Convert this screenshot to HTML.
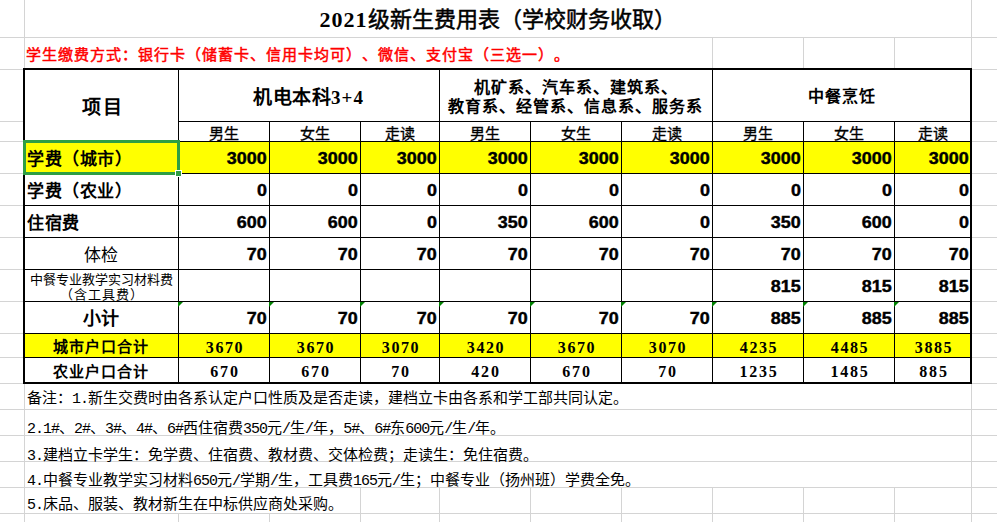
<!DOCTYPE html>
<html lang="zh-CN"><head><meta charset="utf-8"><style>
*{margin:0;padding:0}
html,body{width:997px;height:522px;overflow:hidden;background:#fff}
body{position:relative;font-family:"Liberation Sans",sans-serif;color:#000}
i,b.tri{position:absolute;display:block}
b.tri{width:0;height:0;border-top:5px solid #008000;border-right:5px solid transparent}
.t{position:absolute;white-space:nowrap;line-height:1;text-spacing-trim:space-all}
.m{font-family:"Liberation Mono",monospace;letter-spacing:-1px}
.c{text-align:center}
.title{font-size:22px;font-weight:400;line-height:22px;-webkit-text-stroke:0.5px #000}
.tn{font-family:"Liberation Serif",serif;letter-spacing:1px;font-weight:bold;-webkit-text-stroke:0}
.red{color:#ff0000;font-size:15px;font-weight:400;letter-spacing:1px;-webkit-text-stroke:0.5px #ff0000}
.hd{font-size:19px;font-weight:bold;letter-spacing:0.5px}
.hd2{font-size:16px;font-weight:bold;line-height:19px;letter-spacing:1px}
.hd3{font-size:16px;font-weight:bold;letter-spacing:1px}
.sub{font-size:15px;font-weight:400;-webkit-text-stroke:0.35px #000}
.lab{font-size:17px;font-weight:bold;letter-spacing:0.5px}
.lab2{font-size:17px;font-weight:350}
.small{font-size:13px;line-height:15px;font-weight:350}
.lab3{font-size:18px;font-weight:bold}
.lab4{font-size:15px;font-weight:bold;letter-spacing:1px}
.num{font-size:16px;font-weight:bold;transform:scaleX(1.12);transform-origin:100% 50%;-webkit-text-stroke:0.4px #000}
.tot{font-size:16px;font-weight:bold;font-family:"Liberation Serif",serif;letter-spacing:1.6px}
.tot2{font-size:16px;font-weight:bold;font-family:"Liberation Serif",serif;letter-spacing:1.8px}
.note{font-size:15px;font-weight:350}
</style></head><body>
<i style="left:0px;top:37px;width:997px;height:1px;background:#d4d4d4"></i>
<i style="left:0px;top:69px;width:997px;height:1px;background:#d4d4d4"></i>
<i style="left:0px;top:121px;width:997px;height:1px;background:#d4d4d4"></i>
<i style="left:0px;top:141px;width:997px;height:1px;background:#d4d4d4"></i>
<i style="left:0px;top:173px;width:997px;height:1px;background:#d4d4d4"></i>
<i style="left:0px;top:205px;width:997px;height:1px;background:#d4d4d4"></i>
<i style="left:0px;top:237px;width:997px;height:1px;background:#d4d4d4"></i>
<i style="left:0px;top:269px;width:997px;height:1px;background:#d4d4d4"></i>
<i style="left:0px;top:301px;width:997px;height:1px;background:#d4d4d4"></i>
<i style="left:0px;top:333px;width:997px;height:1px;background:#d4d4d4"></i>
<i style="left:0px;top:357px;width:997px;height:1px;background:#d4d4d4"></i>
<i style="left:0px;top:383px;width:997px;height:1px;background:#d4d4d4"></i>
<i style="left:0px;top:409px;width:997px;height:1px;background:#d4d4d4"></i>
<i style="left:0px;top:435px;width:997px;height:1px;background:#d4d4d4"></i>
<i style="left:0px;top:461px;width:997px;height:1px;background:#d4d4d4"></i>
<i style="left:0px;top:487px;width:997px;height:1px;background:#d4d4d4"></i>
<i style="left:0px;top:513px;width:997px;height:1px;background:#d4d4d4"></i>
<i style="left:24px;top:0px;width:1px;height:522px;background:#d4d4d4"></i>
<i style="left:971px;top:0px;width:1px;height:522px;background:#d4d4d4"></i>
<i style="left:712px;top:37px;width:1px;height:32px;background:#d4d4d4"></i>
<i style="left:803px;top:37px;width:1px;height:32px;background:#d4d4d4"></i>
<i style="left:894px;top:37px;width:1px;height:32px;background:#d4d4d4"></i>
<i style="left:360px;top:487px;width:1px;height:26px;background:#d4d4d4"></i>
<i style="left:439px;top:487px;width:1px;height:26px;background:#d4d4d4"></i>
<i style="left:530px;top:487px;width:1px;height:26px;background:#d4d4d4"></i>
<i style="left:621px;top:487px;width:1px;height:26px;background:#d4d4d4"></i>
<i style="left:712px;top:487px;width:1px;height:26px;background:#d4d4d4"></i>
<i style="left:803px;top:487px;width:1px;height:26px;background:#d4d4d4"></i>
<i style="left:894px;top:487px;width:1px;height:26px;background:#d4d4d4"></i>
<i style="left:178px;top:513px;width:1px;height:9px;background:#d4d4d4"></i>
<i style="left:269px;top:513px;width:1px;height:9px;background:#d4d4d4"></i>
<i style="left:360px;top:513px;width:1px;height:9px;background:#d4d4d4"></i>
<i style="left:439px;top:513px;width:1px;height:9px;background:#d4d4d4"></i>
<i style="left:530px;top:513px;width:1px;height:9px;background:#d4d4d4"></i>
<i style="left:621px;top:513px;width:1px;height:9px;background:#d4d4d4"></i>
<i style="left:712px;top:513px;width:1px;height:9px;background:#d4d4d4"></i>
<i style="left:803px;top:513px;width:1px;height:9px;background:#d4d4d4"></i>
<i style="left:894px;top:513px;width:1px;height:9px;background:#d4d4d4"></i>
<i style="left:25px;top:70px;width:945px;height:312px;background:#ffffff"></i>
<i style="left:25px;top:141px;width:945px;height:32px;background:#ffff00"></i>
<i style="left:25px;top:333px;width:945px;height:24px;background:#ffff00"></i>
<i style="left:23px;top:141px;width:949px;height:1px;background:#000000"></i>
<i style="left:23px;top:173px;width:949px;height:1px;background:#000000"></i>
<i style="left:23px;top:205px;width:949px;height:1px;background:#000000"></i>
<i style="left:23px;top:237px;width:949px;height:1px;background:#000000"></i>
<i style="left:23px;top:269px;width:949px;height:1px;background:#000000"></i>
<i style="left:23px;top:301px;width:949px;height:1px;background:#000000"></i>
<i style="left:23px;top:333px;width:949px;height:1px;background:#000000"></i>
<i style="left:23px;top:357px;width:949px;height:1px;background:#000000"></i>
<i style="left:178px;top:121px;width:793px;height:1px;background:#000000"></i>
<i style="left:178px;top:68px;width:1px;height:315px;background:#000000"></i>
<i style="left:439px;top:68px;width:1px;height:315px;background:#000000"></i>
<i style="left:712px;top:68px;width:1px;height:315px;background:#000000"></i>
<i style="left:269px;top:121px;width:1px;height:262px;background:#000000"></i>
<i style="left:360px;top:121px;width:1px;height:262px;background:#000000"></i>
<i style="left:530px;top:121px;width:1px;height:262px;background:#000000"></i>
<i style="left:621px;top:121px;width:1px;height:262px;background:#000000"></i>
<i style="left:803px;top:121px;width:1px;height:262px;background:#000000"></i>
<i style="left:894px;top:121px;width:1px;height:262px;background:#000000"></i>
<i style="left:23px;top:68px;width:949px;height:2px;background:#000000"></i>
<i style="left:23px;top:382px;width:949px;height:2px;background:#000000"></i>
<i style="left:23px;top:68px;width:2px;height:316px;background:#000000"></i>
<i style="left:970px;top:68px;width:2px;height:316px;background:#000000"></i>
<b class="tri" style="left:178px;top:302px"></b>
<b class="tri" style="left:269px;top:302px"></b>
<b class="tri" style="left:360px;top:302px"></b>
<b class="tri" style="left:439px;top:302px"></b>
<b class="tri" style="left:530px;top:302px"></b>
<b class="tri" style="left:621px;top:302px"></b>
<b class="tri" style="left:712px;top:302px"></b>
<b class="tri" style="left:803px;top:302px"></b>
<b class="tri" style="left:894px;top:302px"></b>
<i style="left:23px;top:140px;width:157px;height:3px;background:#2f9e44"></i>
<i style="left:23px;top:172px;width:155px;height:3px;background:#2f9e44"></i>
<i style="left:23px;top:140px;width:3px;height:35px;background:#2f9e44"></i>
<i style="left:177px;top:140px;width:3px;height:32px;background:#2f9e44"></i>
<i style="left:175px;top:170px;width:7px;height:7px;background:#ffffff"></i>
<i style="left:176px;top:171px;width:5px;height:5px;background:#2f9e44"></i>
<div class="t c title" style="left:24px;width:947px;top:9px;"><span class="tn">2021</span>级新生费用表（学校财务收取）</div>
<div class="t red" style="left:26px;top:47px;">学生缴费方式：银行卡（储蓄卡、信用卡均可）、微信、支付宝（三选一）。</div>
<div class="t c hd" style="left:28px;width:150px;top:98px;letter-spacing:2.5px">项目</div>
<div class="t c hd" style="left:178px;width:261px;top:88px;">机电本科<span class="tn">3+4</span></div>
<div class="t c hd2" style="left:439px;width:273px;top:78px;">机矿系、汽车系、建筑系、<br>教育系、经管系、信息系、服务系</div>
<div class="t c hd3" style="left:712px;width:259px;top:89px;">中餐烹饪</div>
<div class="t c sub" style="left:178px;width:91px;top:126px;">男生</div>
<div class="t c sub" style="left:269px;width:91px;top:126px;">女生</div>
<div class="t c sub" style="left:360px;width:79px;top:126px;">走读</div>
<div class="t c sub" style="left:439px;width:91px;top:126px;">男生</div>
<div class="t c sub" style="left:530px;width:91px;top:126px;">女生</div>
<div class="t c sub" style="left:621px;width:91px;top:126px;">走读</div>
<div class="t c sub" style="left:712px;width:91px;top:126px;">男生</div>
<div class="t c sub" style="left:803px;width:91px;top:126px;">女生</div>
<div class="t c sub" style="left:894px;width:77px;top:126px;">走读</div>
<div class="t lab" style="left:27px;top:151px;">学费（城市）</div>
<div class="t lab" style="left:27px;top:183px;">学费（农业）</div>
<div class="t lab" style="left:27px;top:215px;">住宿费</div>
<div class="t c lab2" style="left:24px;width:154px;top:247px;">体检</div>
<div class="t c small" style="left:24px;width:154px;top:272px;">中餐专业教学实习材料费<br><span style="letter-spacing:1px;margin-right:-1px">（含工具费）</span></div>
<div class="t c lab3" style="left:24px;width:154px;top:310px;">小计</div>
<div class="t c lab4" style="left:24px;width:154px;top:339px;">城市户口合计</div>
<div class="t c lab4" style="left:24px;width:154px;top:364px;">农业户口合计</div>
<div class="t r num" style="right:730px;top:151px;">3000</div>
<div class="t r num" style="right:639px;top:151px;">3000</div>
<div class="t r num" style="right:560px;top:151px;">3000</div>
<div class="t r num" style="right:469px;top:151px;">3000</div>
<div class="t r num" style="right:378px;top:151px;">3000</div>
<div class="t r num" style="right:287px;top:151px;">3000</div>
<div class="t r num" style="right:196px;top:151px;">3000</div>
<div class="t r num" style="right:105px;top:151px;">3000</div>
<div class="t r num" style="right:28px;top:151px;">3000</div>
<div class="t r num" style="right:730px;top:183px;">0</div>
<div class="t r num" style="right:639px;top:183px;">0</div>
<div class="t r num" style="right:560px;top:183px;">0</div>
<div class="t r num" style="right:469px;top:183px;">0</div>
<div class="t r num" style="right:378px;top:183px;">0</div>
<div class="t r num" style="right:287px;top:183px;">0</div>
<div class="t r num" style="right:196px;top:183px;">0</div>
<div class="t r num" style="right:105px;top:183px;">0</div>
<div class="t r num" style="right:28px;top:183px;">0</div>
<div class="t r num" style="right:730px;top:215px;">600</div>
<div class="t r num" style="right:639px;top:215px;">600</div>
<div class="t r num" style="right:560px;top:215px;">0</div>
<div class="t r num" style="right:469px;top:215px;">350</div>
<div class="t r num" style="right:378px;top:215px;">600</div>
<div class="t r num" style="right:287px;top:215px;">0</div>
<div class="t r num" style="right:196px;top:215px;">350</div>
<div class="t r num" style="right:105px;top:215px;">600</div>
<div class="t r num" style="right:28px;top:215px;">0</div>
<div class="t r num" style="right:730px;top:247px;">70</div>
<div class="t r num" style="right:639px;top:247px;">70</div>
<div class="t r num" style="right:560px;top:247px;">70</div>
<div class="t r num" style="right:469px;top:247px;">70</div>
<div class="t r num" style="right:378px;top:247px;">70</div>
<div class="t r num" style="right:287px;top:247px;">70</div>
<div class="t r num" style="right:196px;top:247px;">70</div>
<div class="t r num" style="right:105px;top:247px;">70</div>
<div class="t r num" style="right:28px;top:247px;">70</div>
<div class="t r num" style="right:196px;top:279px;">815</div>
<div class="t r num" style="right:105px;top:279px;">815</div>
<div class="t r num" style="right:28px;top:279px;">815</div>
<div class="t r num" style="right:730px;top:311px;">70</div>
<div class="t r num" style="right:639px;top:311px;">70</div>
<div class="t r num" style="right:560px;top:311px;">70</div>
<div class="t r num" style="right:469px;top:311px;">70</div>
<div class="t r num" style="right:378px;top:311px;">70</div>
<div class="t r num" style="right:287px;top:311px;">70</div>
<div class="t r num" style="right:196px;top:311px;">885</div>
<div class="t r num" style="right:105px;top:311px;">885</div>
<div class="t r num" style="right:28px;top:311px;">885</div>
<div class="t c tot" style="left:181px;width:88px;top:340px;">3670</div>
<div class="t c tot2" style="left:181px;width:88px;top:364px;">670</div>
<div class="t c tot" style="left:272px;width:88px;top:340px;">3670</div>
<div class="t c tot2" style="left:272px;width:88px;top:364px;">670</div>
<div class="t c tot" style="left:363px;width:76px;top:340px;">3070</div>
<div class="t c tot2" style="left:363px;width:76px;top:364px;">70</div>
<div class="t c tot" style="left:442px;width:88px;top:340px;">3420</div>
<div class="t c tot2" style="left:442px;width:88px;top:364px;">420</div>
<div class="t c tot" style="left:533px;width:88px;top:340px;">3670</div>
<div class="t c tot2" style="left:533px;width:88px;top:364px;">670</div>
<div class="t c tot" style="left:624px;width:88px;top:340px;">3070</div>
<div class="t c tot2" style="left:624px;width:88px;top:364px;">70</div>
<div class="t c tot" style="left:715px;width:88px;top:340px;">4235</div>
<div class="t c tot2" style="left:715px;width:88px;top:364px;">1235</div>
<div class="t c tot" style="left:806px;width:88px;top:340px;">4485</div>
<div class="t c tot2" style="left:806px;width:88px;top:364px;">1485</div>
<div class="t c tot" style="left:897px;width:74px;top:340px;">3885</div>
<div class="t c tot2" style="left:897px;width:74px;top:364px;">885</div>
<div class="t note" style="left:27px;top:390px;">备注：<span class="m">1.</span>新生交费时由各系认定户口性质及是否走读，建档立卡由各系和学工部共同认定。</div>
<div class="t note" style="left:27px;top:420px;"><span class="m">2.1#</span>、<span class="m">2#</span>、<span class="m">3#</span>、<span class="m">4#</span>、<span class="m">6#</span>西住宿费<span class="m">350</span>元<span class="m">/</span>生<span class="m">/</span>年，<span class="m">5#</span>、<span class="m">6#</span>东<span class="m">600</span>元<span class="m">/</span>生<span class="m">/</span>年。</div>
<div class="t note" style="left:27px;top:447px;"><span class="m">3.</span>建档立卡学生：免学费、住宿费、教材费、交体检费；走读生：免住宿费。</div>
<div class="t note" style="left:27px;top:472px;"><span class="m">4.</span>中餐专业教学实习材料<span class="m">650</span>元<span class="m">/</span>学期<span class="m">/</span>生，工具费<span class="m">165</span>元<span class="m">/</span>生；中餐专业（扬州班）学费全免。</div>
<div class="t note" style="left:27px;top:496px;"><span class="m">5.</span>床品、服装、教材新生在中标供应商处采购。</div>
</body></html>
